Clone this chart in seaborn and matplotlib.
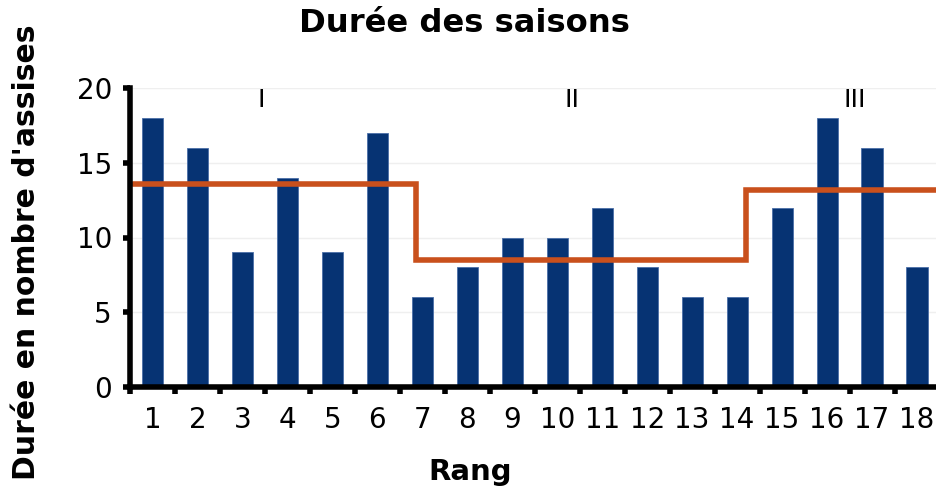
import matplotlib
matplotlib.use("Agg")
import matplotlib.pyplot as plt
import seaborn as sns
import pandas as pd
import numpy as np
from matplotlib.ticker import FixedLocator

# Data
ranks = [str(i) for i in range(1, 19)]
durations = [18, 16, 9, 14, 9, 17, 6, 8, 10, 10, 12, 8, 6, 6, 12, 18, 16, 8]
season_labels = ["I", "II", "III"]
season_means = [13.6, 8.5, 13.15]
# step boundaries (bar index positions, 0-based)
season_edges = [-0.43, 5.87, 13.2, 17.6]
season_label_x = [2.41, 9.33, 15.62]
season_label_y = 19.2

sns.set_theme(style="white")
plt.rcParams['font.family'] = ['DejaVu Sans']
plt.rcParams.update({"text.color": "black", "axes.labelcolor": "black",
                     "xtick.color": "black", "ytick.color": "black"})

fig = plt.figure(figsize=(9.36, 4.95), dpi=100)
ax = fig.add_axes([130/936, 1-387/495, 809.5/936, (387-88)/495])

df = pd.DataFrame({"Rang": ranks, "Durée": durations})
sns.barplot(data=df, x="Rang", y="Durée", color="#063373", saturation=1,
            width=0.47, ax=ax, zorder=2, edgecolor="#4a6fa8", linewidth=0.6)

# faint horizontal grid
for v in [5, 10, 15, 20]:
    ax.axhline(v, color="#efefef", lw=1, zorder=0)

# step line of season means
xs, ys = [], []
for i, m in enumerate(season_means):
    xs += [season_edges[i], season_edges[i+1]]
    ys += [m, m]
ax.plot(xs, ys, color="#C9501C", lw=4, zorder=3, solid_joinstyle="miter",
        clip_on=False)

for lab, lx in zip(season_labels, season_label_x):
    ax.text(lx, season_label_y, lab, ha="center", va="center", fontsize=18,
            color="black")

ax.set_xlim(-0.5, 17.5)
ax.set_ylim(0, 20)
ax.set_yticks([0, 5, 10, 15, 20])
ax.tick_params(axis="y", which="major", direction="out", length=5, width=4,
               labelsize=20, pad=8, left=True)
ax.tick_params(axis="x", which="major", length=0, labelsize=20, pad=14)
ax.xaxis.set_minor_locator(FixedLocator(np.arange(-0.5, 17.6, 1)))
ax.tick_params(axis="x", which="minor", direction="out", length=5, width=4,
               bottom=True)

for s in ["top", "right"]:
    ax.spines[s].set_visible(False)
for s in ["left", "bottom"]:
    ax.spines[s].set_linewidth(4)
    ax.spines[s].set_color("black")
    ax.spines[s].set_zorder(4)

ax.set_xlabel("Rang", fontsize=21, fontweight="bold")
ax.xaxis.set_label_coords((470-130)/809.5, -(472-387)/299, transform=ax.transAxes)
ax.xaxis.label.set_va("center")
ax.set_ylabel("Durée en nombre d'assises", fontsize=21.5, fontweight="bold")
ax.yaxis.set_label_coords(-(130-27)/809.5, (387-252)/299, transform=ax.transAxes)
ax.yaxis.label.set_va("center")
fig.text(464/936, 1-23/495, "Durée des saisons", fontsize=23.2, fontweight="bold",
         ha="center", va="center")

fig.savefig("out.png", dpi=100)
